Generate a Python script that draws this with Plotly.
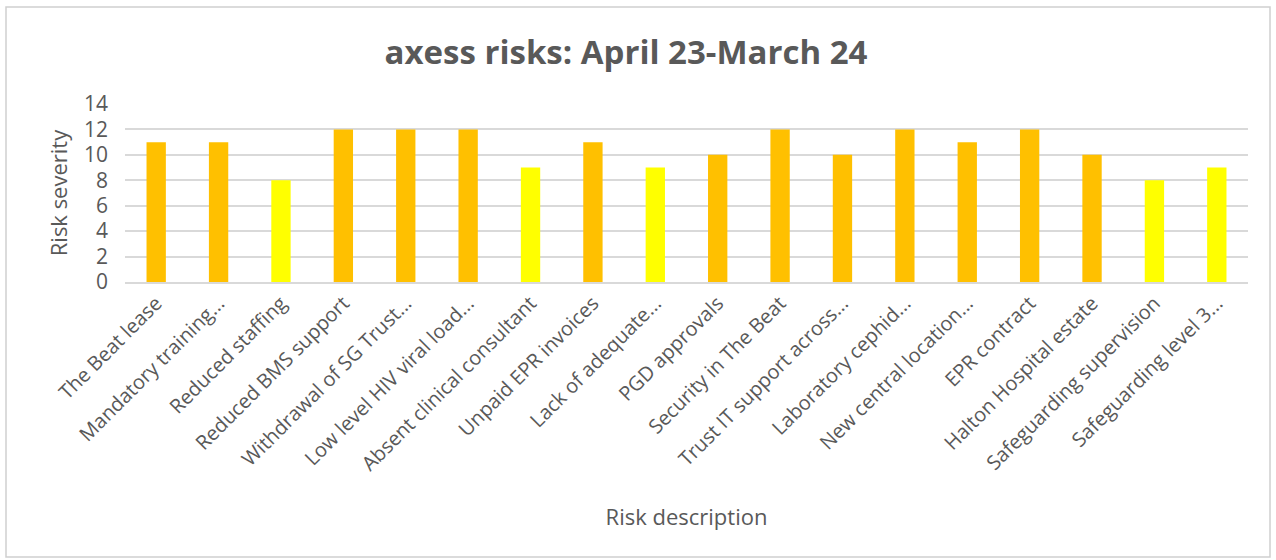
import plotly.graph_objects as go

categories = [
    "The Beat lease", "Mandatory training...", "Reduced staffing", "Reduced BMS support",
    "Withdrawal of SG Trust...", "Low level HIV viral load...", "Absent clinical consultant",
    "Unpaid EPR invoices", "Lack of adequate...", "PGD approvals", "Security in The Beat",
    "Trust IT support across...", "Laboratory cephid...", "New central location...",
    "EPR contract", "Halton Hospital estate", "Safeguarding supervision", "Safeguarding level 3...",
]
severity = [11, 11, 8, 12, 12, 12, 9, 11, 9, 10, 12, 10, 12, 11, 12, 10, 8, 9]
y_ticks = [0, 2, 4, 6, 8, 10, 12, 14]

ORANGE = "#FFC000"
YELLOW = "#FFFF00"
colors = [ORANGE if v >= 10 else YELLOW for v in severity]

W, H = 1276, 560
ML, MR, MT, MB = 125, 28, 104, 278
PW, PH = W - ML - MR, H - MT - MB

fig = go.Figure(go.Bar(x=categories, y=severity, marker=dict(color=colors, line=dict(width=0)),
                       width=0.31))

font = "Open Sans, Liberation Sans, sans-serif"
fig.update_layout(
    width=W, height=H,
    margin=dict(l=ML, r=MR, t=MT, b=MB),
    paper_bgcolor="white", plot_bgcolor="white",
    title=dict(text="<b>axess risks: April 23-March 24</b>", x=626 / W, xanchor="center",
               y=1 - 52 / H, yanchor="middle",
               font=dict(family=font, size=33, color="#595959")),
    showlegend=False,
    font=dict(family=font, color="#595959"),
)
fig.update_xaxes(tickangle=-45, tickfont=dict(size=20, color="#595959"),
                 showgrid=False, showline=True, linecolor="#d9d9d9", linewidth=1.5,
                 ticks="", title=dict(text="Risk description", font=dict(size=22, color="#595959"),
                                      standoff=34))
fig.update_yaxes(range=[0, 14], tickvals=y_ticks, tickfont=dict(size=21, color="#595959"),
                 ticklabelstandoff=16,
                 showgrid=True, gridcolor="#d9d9d9", gridwidth=1.5, zeroline=False,
                 title=dict(text="Risk severity", font=dict(size=22, color="#595959"), standoff=10),
                 ticks="", showline=False)

# outer border of the chart
x0 = (6 - ML) / PW
x1 = (1270 - ML) / PW
y1 = (H - MB - 7) / PH
y0 = (H - MB - 557) / PH
fig.add_shape(type="rect", xref="paper", yref="paper", x0=x0, x1=x1, y0=y0, y1=y1,
              line=dict(color="#d0d0d0", width=1.5), layer="below")

fig.write_html("out.html")
